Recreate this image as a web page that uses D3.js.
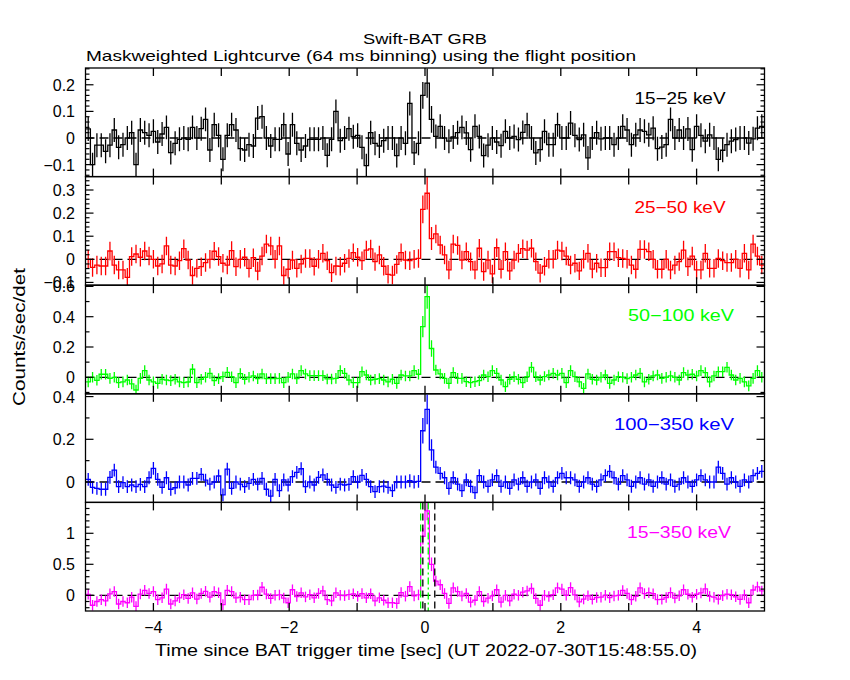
<!DOCTYPE html>
<html><head><meta charset="utf-8">
<script src="https://cdn.jsdelivr.net/npm/d3@7"></script>
<style>body{margin:0;background:#fff}text{font-family:"Liberation Sans",Arial,sans-serif}</style>
</head><body>
<svg id="c" width="850" height="680"></svg>
<script>
// ---------------- DATA ----------------
const binStart = -4.992;   // left edge of first 64 ms bin [s]
const binWidth = 0.064;

const rate15_25 = [0.034,-0.1,-0.027,-0.027,-0.05,-0.027,0.03,-0.035,-0.025,0,
 0.02,-0.1,0.03,0.02,0.01,0.025,-0.015,0.015,0.04,-0.055,
 -0.02,-0.005,0,-0.005,0.04,0,0.035,0.07,-0.045,0.05,
 0.01,-0.08,0.01,0.05,0.03,-0.04,-0.045,-0.025,-0.03,0.075,
 0.08,0,-0.03,-0.005,-0.005,0.05,-0.06,0.05,-0.02,-0.045,
 -0.03,-0.005,-0.005,-0.005,0,-0.065,-0.005,0.1,-0.01,0,
 0.035,0.005,0.01,-0.035,-0.104,0.02,-0.02,-0.03,-0.01,0,
 0,-0.066,0,-0.02,0.13,-0.056,-0.02,0.16,0.206,0.07,
 0.006,0.044,0,-0.012,0.004,0.02,0.04,0.019,-0.044,0.044,
 0.006,-0.066,-0.027,0,-0.015,-0.029,0.025,0,0.006,-0.006,
 0.021,0.05,0,-0.056,-0.044,0.025,-0.025,-0.025,0.05,0,
 0,0.056,0.01,-0.006,0.012,-0.075,0,0.02,-0.003,0,
 0,-0.025,0,0.044,0.03,-0.025,0.012,0.03,0.025,0.012,
 0.037,-0.04,-0.034,-0.025,0.07,0,0.03,0,0.034,-0.044,
 0.044,0.01,-0.012,0.012,0,-0.08,-0.046,-0.025,-0.012,-0.006,
 0,0,-0.019,-0.003,0.037,0.044];

const rate25_50 = [0,-0.035,-0.025,-0.029,-0.029,0.036,-0.025,-0.046,-0.046,-0.078,
 0.012,0.023,0.009,0.036,0.014,0,-0.029,-0.02,0.058,-0.025,
 -0.029,-0.006,0.046,-0.003,-0.07,-0.039,-0.032,-0.014,0,0.035,
 0.012,-0.017,-0.025,0.038,-0.032,0,0.009,-0.039,0.007,-0.051,
 0.014,0.066,0.058,0,0.058,-0.07,-0.043,-0.003,-0.039,-0.02,
 0.004,0.004,-0.03,0,0.026,-0.006,-0.058,-0.029,-0.03,-0.017,
 0.004,0.029,0.009,-0.006,0.04,0.045,-0.01,0.019,-0.03,-0.065,
 -0.068,-0.022,0.029,-0.003,-0.006,0,0.004,0.216,0.286,0.09,
 0.11,0.062,0.019,-0.046,0.066,0.06,-0.003,0.033,-0.01,-0.046,
 0.048,-0.053,-0.003,-0.063,0.05,-0.043,0.033,-0.05,-0.003,0.026,
 0.046,0.04,0.048,-0.01,-0.06,-0.03,0,0,0.04,0.036,
 0.014,-0.025,-0.017,-0.05,0,0.026,-0.042,-0.017,-0.036,-0.036,
 0.033,0.033,0.007,0.004,0,-0.025,-0.043,0.043,0.043,0.033,
 0,-0.043,-0.043,0,-0.046,-0.025,-0.01,0.04,-0.032,0.014,
 -0.046,-0.046,0.026,-0.039,-0.039,0.004,-0.006,-0.014,-0.014,0,
 -0.039,0.026,-0.046,0.066,0.014,-0.025];

const rate50_100 = [-0.03,0,-0.02,0.02,0.02,-0.007,0,-0.035,-0.03,-0.018,
 -0.044,-0.084,-0.007,0.044,-0.018,-0.03,-0.04,-0.013,-0.018,-0.022,
 -0.013,-0.03,-0.035,-0.031,0.053,-0.035,-0.013,0,0.026,-0.022,
 -0.009,0.004,0.033,0.004,-0.035,0.024,-0.013,0,0.009,-0.009,
 0.022,-0.009,-0.009,-0.009,-0.007,-0.035,0,0.022,-0.009,0.044,
 0.022,0.011,0.011,0.011,0.011,-0.011,-0.011,-0.007,0.044,0.026,
 -0.018,-0.035,-0.035,0.037,0.015,-0.018,-0.013,-0.009,-0.018,-0.03,
 -0.013,-0.04,0.015,0.009,0.009,0.044,0.02,0.334,0.532,0.19,
 0.048,0.022,-0.007,-0.04,0.031,-0.007,-0.007,-0.029,-0.035,-0.029,
 -0.022,0.015,0.004,0.044,0.026,-0.018,-0.062,-0.013,0.004,-0.013,
 -0.035,0.004,0.066,0.004,-0.018,0.005,0.015,0.026,0.015,0.026,
 -0.035,0.044,0.004,-0.03,-0.073,0.022,-0.013,-0.018,0,0.015,
 -0.04,-0.018,0.004,0,-0.009,0,0.015,0.026,-0.03,-0.013,
 0.009,0.015,-0.007,0,0.009,0,-0.018,0.031,0.015,0.02,
 0.009,0.044,0.031,-0.03,0.009,0.037,0.037,0.066,0.015,-0.018,
 -0.007,-0.03,-0.057,-0.007,0.044,0];

const rate100_350 = [0.012,-0.025,-0.03,-0.034,-0.034,0.022,0.056,-0.022,-0.003,-0.022,
 -0.014,-0.022,-0.011,-0.022,0.02,0.064,0.012,-0.025,0.02,-0.034,
 -0.027,0,0,-0.014,0.017,0.017,0.036,0.009,-0.01,0,
 0.028,-0.06,0.06,-0.03,0,-0.01,-0.022,-0.006,0.012,-0.01,
 0.017,-0.034,-0.066,0.012,-0.04,0.01,-0.014,0.025,0.045,0.062,
 -0.022,0,-0.014,0.022,0.033,0.012,-0.014,-0.025,-0.01,-0.014,
 -0.011,0.025,0,0.031,0.012,-0.022,-0.045,-0.022,-0.019,-0.025,
 -0.04,0,0,0,0.006,0,0.003,0.24,0.34,0.15,
 0.07,0.04,0.02,-0.03,0.02,-0.01,-0.04,0.01,-0.02,-0.05,
 0.03,0,-0.02,0.01,0.03,-0.02,0,-0.03,0.01,-0.01,
 0.02,-0.02,0,0.01,-0.03,0.02,0,-0.02,0.02,0.04,
 0.02,0.02,0.01,-0.02,0,0.02,-0.01,-0.02,0.01,0.03,
 0.05,0.02,-0.01,0.03,0.01,-0.02,0,0.02,-0.01,0.01,
 -0.02,0,0.02,-0.01,0.01,-0.02,-0.01,0.02,0,-0.02,
 0.01,0.03,0.01,0,0,0.07,0.04,-0.01,0.02,0,
 -0.02,0.01,0,0.03,0.04,0.05];

const rate15_350 = [0.016,-0.16,-0.1,-0.07,-0.09,0.024,0.06,-0.14,-0.1,-0.12,
 -0.03,-0.18,0.02,0.08,0.03,0.06,-0.07,-0.04,0.1,-0.14,
 -0.09,-0.04,0.01,-0.05,0.04,-0.06,0.03,0.065,-0.03,0.06,
 0.04,-0.15,0.08,0.06,-0.04,-0.03,-0.07,-0.07,0,0.005,
 0.13,0.02,-0.05,0,0.006,-0.045,-0.12,0.09,-0.02,0.04,
 -0.026,0.01,-0.04,0.03,0.07,-0.07,-0.09,0.04,0,-0.005,
 0.01,0.024,-0.016,0.027,-0.04,0.025,-0.09,-0.04,-0.08,-0.12,
 -0.12,-0.13,0.044,-0.014,0.14,-0.01,0.007,0.95,1.36,0.5,
 0.23,0.17,0.03,-0.13,0.12,0.06,-0.01,0.03,-0.11,-0.08,
 0.06,-0.1,-0.046,-0.01,0.09,-0.11,0,-0.09,0.017,0,
 0.05,0.07,0.11,-0.05,-0.16,0,-0.02,0.01,0.12,0.1,
 0,0.125,0.007,-0.106,-0.06,-0.007,-0.065,-0.035,-0.03,0,
 -0.037,-0.01,0,0.078,0.03,-0.07,-0.016,0.12,0.028,0.042,
 0.026,-0.068,-0.064,-0.035,0.043,-0.045,-0.008,0.09,0.017,-0.03,
 0.017,0.038,0.105,-0.017,-0.03,-0.063,-0.005,0.017,0.009,-0.024,
 -0.066,0.006,-0.12,0.086,0.135,0.07];

// 1-sigma errors: typical value per band, and the three burst bins (index 77..79)
const errTypical = [0.045, 0.04, 0.035, 0.03, 0.085];
const errBurst = [[0.05,0.055,0.05],[0.06,0.07,0.05],[0.07,0.08,0.055],[0.06,0.07,0.05],[0.13,0.15,0.11]];
const burstFirstBin = 77;

const bandLabels = ["15\u221225 keV","25\u221250 keV","50\u2212100 keV","100\u2212350 keV","15\u2212350 keV"];
const bandColors = ["#000000","#ff0000","#00ff00","#0000ff","#ff00ff"];
const yDomains = [[-0.145,0.263],[-0.112,0.358],[-0.109,0.608],[-0.0955,0.413],[-0.253,1.498]];
const yTickLabels = [[-0.1,0,0.1,0.2],[-0.1,0,0.1,0.2,0.3],[0,0.2,0.4,0.6],[0,0.2,0.4],[0,0.5,1]];
const yMinorStep = [0.02,0.02,0.1,0.1,0.1];
const xTickLabels = [-4,-2,0,2,4];
// burst interval markers in the bottom panel [s]
const t90Lines = [-0.064, 0.048];
const t100Lines = [-0.032, 0.144];

// ---------------- LAYOUT ----------------
const svg = d3.select("#c");
const L = 85.5, R = 764.5, TOP = 68, BOT = 611;
const nP = 5, pH = (BOT - TOP) / nP;
const x = d3.scaleLinear().domain([-5, 5]).range([L, R]);
const series = [rate15_25, rate25_50, rate50_100, rate100_350, rate15_350];
const fmt = v => (v < 0 ? "\u2212" : "") + String(Math.abs(+v.toFixed(2)));
const labelGeom = [[680,91],[680,91],[681,106],[674,120],[679,104]];  // centre x, width

const defs = svg.append("defs");

series.forEach((vals, p) => {
  const y0 = TOP + p * pH, y1 = y0 + pH;
  const y = d3.scaleLinear().domain(yDomains[p]).range([y1, y0]);
  const col = bandColors[p];
  defs.append("clipPath").attr("id", "clip" + p)
    .append("rect").attr("x", L).attr("y", y0).attr("width", R - L).attr("height", pH);
  const g = svg.append("g");
  const gc = g.append("g").attr("clip-path", `url(#clip${p})`);

  gc.append("line").attr("x1", L).attr("x2", R).attr("y1", y(0)).attr("y2", y(0))
    .attr("stroke", "#000").attr("stroke-width", 1.3).attr("stroke-dasharray", "9,5");

  const errs = vals.map((v, i) => {
    const k = i - burstFirstBin;
    return (k >= 0 && k < 3) ? errBurst[p][k] : errTypical[p];
  });
  gc.selectAll("line.eb").data(vals).enter().append("line").attr("class", "eb")
    .attr("x1", (d, i) => x(binStart + (i + 0.5) * binWidth))
    .attr("x2", (d, i) => x(binStart + (i + 0.5) * binWidth))
    .attr("y1", (d, i) => y(d - errs[i])).attr("y2", (d, i) => y(d + errs[i]))
    .attr("stroke", col).attr("stroke-width", 1.3);

  const pts = vals.map((v, i) => [binStart + i * binWidth, v]);
  pts.push([binStart + vals.length * binWidth, vals[vals.length - 1]]);
  const line = d3.line().x(d => x(d[0])).y(d => y(d[1])).curve(d3.curveStepAfter);
  gc.append("path").attr("d", line(pts)).attr("fill", "none")
    .attr("stroke", col).attr("stroke-width", 1.3);

  if (p === nP - 1) {
    t90Lines.forEach((t, j) => gc.append("line").attr("x1", x(t)).attr("x2", x(t)).attr("y1", y0).attr("y2", y1)
      .attr("stroke", "#00ff00").attr("stroke-width", 1.3)
      .attr("stroke-dasharray", j === 0 ? "7,4" : "7,3,2,3"));
    t100Lines.forEach(t => gc.append("line").attr("x1", x(t)).attr("x2", x(t)).attr("y1", y0).attr("y2", y1)
      .attr("stroke", "#000").attr("stroke-width", 1.3).attr("stroke-dasharray", "7,4"));
  }

  g.append("rect").attr("x", L).attr("y", y0).attr("width", R - L).attr("height", pH)
    .attr("fill", "none").attr("stroke", "#000").attr("stroke-width", 1.3);

  d3.range(-4, 5).forEach(t => {
    g.append("line").attr("x1", x(t)).attr("x2", x(t)).attr("y1", y1).attr("y2", y1 - 8).attr("stroke", "#000").attr("stroke-width", 1.3);
    g.append("line").attr("x1", x(t)).attr("x2", x(t)).attr("y1", y0).attr("y2", y0 + 8).attr("stroke", "#000").attr("stroke-width", 1.3);
  });

  const [dmin, dmax] = yDomains[p];
  const step = yMinorStep[p];
  for (let v = Math.ceil(dmin / step - 1e-6) * step; v <= dmax + 1e-9; v += step) {
    const vv = Math.round(v / step) * step;
    const major = yTickLabels[p].some(t => Math.abs(t - vv) < 1e-6);
    const len = major ? 8 : 4;
    const yy = y(vv);
    g.append("line").attr("x1", L).attr("x2", L + len).attr("y1", yy).attr("y2", yy).attr("stroke", "#000").attr("stroke-width", 1.2);
    g.append("line").attr("x1", R).attr("x2", R - len).attr("y1", yy).attr("y2", yy).attr("stroke", "#000").attr("stroke-width", 1.2);
  }
  yTickLabels[p].forEach(t => {
    svg.append("text").attr("x", 75).attr("y", y(t) + 6).attr("text-anchor", "end")
      .attr("font-size", 16).attr("fill", "#000").text(fmt(t));
  });

  svg.append("text").attr("x", labelGeom[p][0]).attr("y", y0 + 36).attr("text-anchor", "middle")
    .attr("font-size", 16).attr("fill", col)
    .attr("textLength", labelGeom[p][1]).attr("lengthAdjust", "spacingAndGlyphs").text(bandLabels[p]);
});

xTickLabels.forEach(t => {
  svg.append("text").attr("x", x(t)).attr("y", 633).attr("text-anchor", "middle")
    .attr("font-size", 16).text(fmt(t));
});

svg.append("text").attr("x", 425).attr("y", 44).attr("text-anchor", "middle").attr("font-size", 15)
  .attr("textLength", 124).attr("lengthAdjust", "spacingAndGlyphs").text("Swift-BAT GRB");
svg.append("text").attr("x", 86).attr("y", 61).attr("font-size", 15)
  .attr("textLength", 550).attr("lengthAdjust", "spacingAndGlyphs")
  .text("Maskweighted Lightcurve (64 ms binning) using the flight position");
svg.append("text").attr("x", 426).attr("y", 656).attr("text-anchor", "middle").attr("font-size", 16)
  .attr("textLength", 542).attr("lengthAdjust", "spacingAndGlyphs")
  .text("Time since BAT trigger time [sec] (UT 2022-07-30T15:48:55.0)");
svg.append("text").attr("transform", "translate(25,337) rotate(-90)").attr("text-anchor", "middle")
  .attr("font-size", 16).attr("textLength", 138).attr("lengthAdjust", "spacingAndGlyphs").text("Counts/sec/det");
</script>
</body></html>
